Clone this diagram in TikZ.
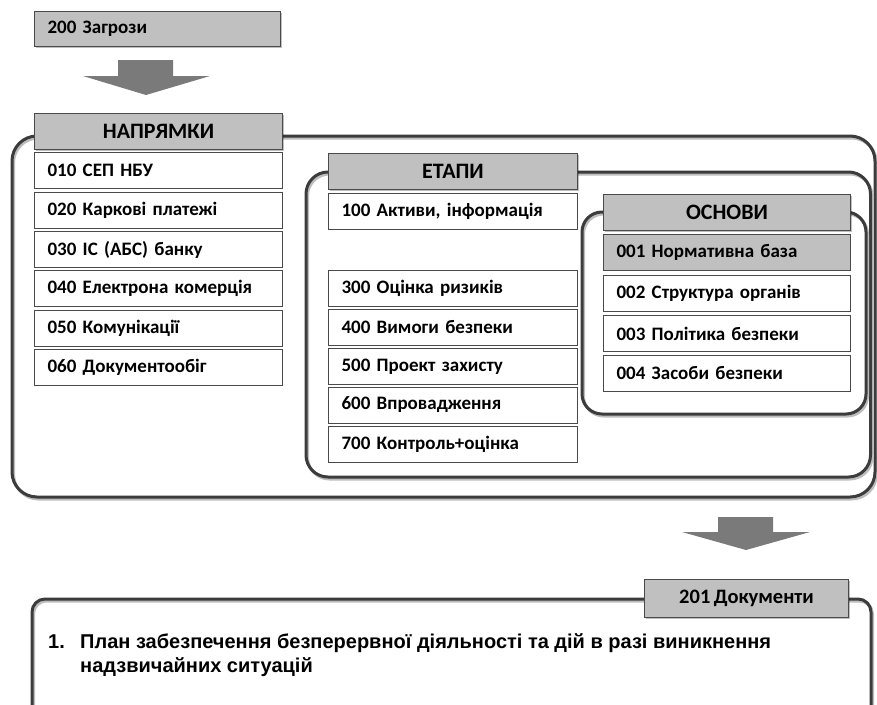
\documentclass[tikz,border=0pt]{standalone}
\usepackage{fontspec}
\setmainfont{Carlito}[WordSpace=0.75]
\newfontfamily\arialfont{Liberation Sans}
\usetikzlibrary{shadows}
\definecolor{hdrfill}{HTML}{C0C0C0}
\definecolor{frm}{HTML}{3C3C3C}
\definecolor{bxline}{HTML}{4A4A4A}
\definecolor{arrfill}{HTML}{7A7A7A}
\definecolor{shd}{HTML}{BDBDBD}
\newcommand{\myframe}[5]{%
  \draw[shd, line width=3pt, rounded corners=#5] (#1+1.5,#2+2) rectangle (#3+1.5,#4+2);
  \draw[frm, line width=3pt, rounded corners=#5] (#1,#2) rectangle (#3,#4);}
\begin{document}
\begin{tikzpicture}[x=1pt,y=-1pt,
  boxbase/.style={draw=bxline, line width=1pt, anchor=north west, inner ysep=0pt,
    minimum height=36pt, font=\bfseries\fontsize{19}{22}\selectfont},
  itembox/.style={boxbase, fill=white, inner xsep=13pt, text width=#1, align=left},
  hdrbox/.style={boxbase, fill=hdrfill, inner xsep=0pt, minimum width=#1, align=center,
    font=\bfseries\fontsize{22}{24}\selectfont,
    drop shadow={shadow xshift=1.5pt, shadow yshift=-1.5pt, opacity=.25, fill=black}},
  arrowshape/.style={fill=arrfill},
  doctext/.style={anchor=base west, inner sep=0pt, font=\arialfont\bfseries\fontsize{20}{24}\selectfont}
]
\useasboundingbox (0,0) rectangle (877,704);
\begin{scope}
\clip (0,0) rectangle (877,704);

% top threat box and arrow
\node[itembox=220pt, fill=hdrfill, minimum height=35pt,
  drop shadow={shadow xshift=1.5pt, shadow yshift=-1.5pt, opacity=.25, fill=black}] (n200) at (34,11) {200 Загрози};
\fill[arrowshape] (118,60) -- (173,60) -- (173,76) -- (210,76) -- (146,95) -- (83,76) -- (118,76) -- cycle;

% outer frame: НАПРЯМКИ
\myframe{12}{136}{875}{497}{25}
\node[hdrbox=248pt] (hnapr) at (34,113) {НАПРЯМКИ};
\node[itembox=222pt] (n010) at (34,152) {010 СЕП НБУ};
\node[itembox=222pt] (n020) at (34,191.5) {020 Каркові платежі};
\node[itembox=222pt] (n030) at (34,231) {030 ІС (АБС) банку};
\node[itembox=222pt] (n040) at (34,270) {040 Електрона комерція};
\node[itembox=222pt] (n050) at (34,309.5) {050 Комунікації};
\node[itembox=222pt] (n060) at (34,349) {060 Документообіг};

% ЕТАПИ frame
\myframe{306}{172}{870.5}{477}{22}
\node[hdrbox=249pt] (hetap) at (328,153) {ЕТАПИ};
\node[itembox=223pt] (e100) at (328,193) {100 Активи, інформація};
\node[itembox=223pt] (e300) at (328,270) {300 Оцінка ризиків};
\node[itembox=223pt] (e400) at (328,309) {400 Вимоги безпеки};
\node[itembox=223pt] (e500) at (328,348) {500 Проект захисту};
\node[itembox=223pt] (e600) at (328,386.5) {600 Впровадження};
\node[itembox=223pt] (e700) at (328,425.5) {700 Контроль+оцінка};

% ОСНОВИ frame
\myframe{582}{212}{866}{414}{20}
\node[hdrbox=247pt] (hosn) at (603,194) {ОСНОВИ};
\node[itembox=221pt, fill=hdrfill] (o001) at (603,234) {001 Нормативна база};
\node[itembox=221pt] (o002) at (603,275) {002 Структура органів};
\node[itembox=221pt] (o003) at (603,315) {003 Політика безпеки};
\node[itembox=221pt] (o004) at (603,355) {004 Засоби безпеки};

% lower arrow
\fill[arrowshape] (718,517) -- (773,517) -- (773,532) -- (810,532) -- (746,550) -- (682,532) -- (718,532) -- cycle;

% documents frame
\myframe{32}{599}{871}{760}{13}
\node[hdrbox=204pt, minimum height=38pt, font=\bfseries\fontsize{20.5}{23}\selectfont] (n201) at (644,579) {201 Документи};
\node[doctext] (t1num) at (48,648) {1.};
\node[doctext] (t1a) at (80,648) {План забезпечення безперервної діяльності та дій в разі виникнення};
\node[doctext] (t1b) at (80,672) {надзвичайних ситуацій};
\end{scope}
\end{tikzpicture}
\end{document}
